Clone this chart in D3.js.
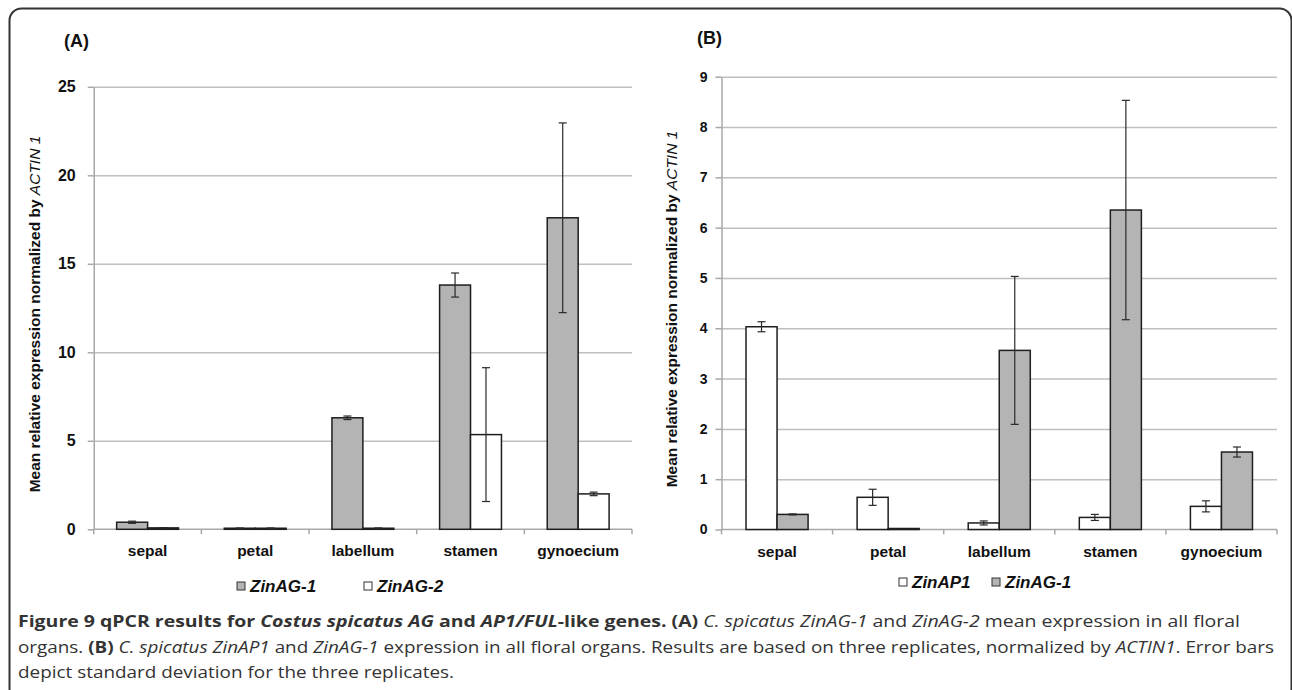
<!DOCTYPE html>
<html>
<head>
<meta charset="utf-8">
<script src="https://cdn.jsdelivr.net/npm/d3@7"></script>
<style>
  body { margin: 0; background: #fff; }
  svg { display: block; font-family: "Liberation Sans", Arial, sans-serif; }
  .grid line { stroke: #bfbfbf; stroke-width: 1.5; }
  .grid path { display: none; }
  .axis--y path, .axis--y line { stroke: #a8a8a8; stroke-width: 1.5; }
  .axis--y text { font-weight: bold; fill: #111; }
  .axis--x path, .axis--x line { display: none; }
  .axis--x text { font-weight: bold; fill: #111; font-size: 15.5px; }
  .bar { stroke: #1e1e1e; stroke-width: 1.5; }
  .err { stroke: #2a2a2a; stroke-width: 1.2; }
  .caption { font-family: "Open Sans", sans-serif; font-size: 16px; fill: #333; }
</style>
</head>
<body>
<div class="app"></div>
<script>
// values
var categories = ["sepal", "petal", "labellum", "stamen", "gynoecium"];

// panel (A)
var seriesA = ["ZinAG-1", "ZinAG-2"];
var zinAG1_A = [0.40, 0.06, 6.30, 13.80, 17.60];
var zinAG1_A_sd = [0.06, 0.01, 0.10, 0.68, 5.36];
var zinAG2_A = [0.08, 0.06, 0.06, 5.35, 2.00];
var zinAG2_A_sd = [0.01, 0.01, 0.01, 3.78, 0.10];
var ticksA = [0, 5, 10, 15, 20, 25];

// panel (B)
var seriesB = ["ZinAP1", "ZinAG-1"];
var zinAP1_B = [4.03, 0.64, 0.13, 0.24, 0.46];
var zinAP1_B_sd = [0.10, 0.16, 0.04, 0.06, 0.11];
var zinAG1_B = [0.30, 0.02, 3.56, 6.35, 1.54];
var zinAG1_B_sd = [0.01, 0.00, 1.47, 2.18, 0.10];
var ticksB = [0, 1, 2, 3, 4, 5, 6, 7, 8, 9];

var GRAY = "#b4b4b4", WHITE = "#ffffff";

var W = 1292, H = 690;

var svg = d3.select(".app").append("svg")
    .attr("width", W)
    .attr("height", H);

// frame round the figure
svg.append("rect")
    .attr("x", 9.5).attr("y", 8.5)
    .attr("width", 1282).attr("height", 692)
    .attr("rx", 12).attr("ry", 12)
    .attr("fill", "none")
    .attr("stroke", "#333")
    .attr("stroke-width", 2);

function drawPanel(cfg) {
    var x0 = d3.scaleBand().domain(categories).range([cfg.left, cfg.right]);
    var x1 = d3.scaleBand().domain(cfg.series).range([0, x0.bandwidth()]).paddingOuter(cfg.outer);
    var y = d3.scaleLinear().domain([0, d3.max(cfg.ticks)]).range([cfg.bottom, cfg.top]);

    var g = svg.append("g");

    // panel letter
    g.append("text")
        .attr("x", cfg.letterX).attr("y", cfg.letterY)
        .style("font-size", "18px").style("font-weight", "bold")
        .attr("fill", "#111")
        .text(cfg.letter);

    // gridlines
    g.append("g")
        .attr("class", "grid")
        .attr("transform", "translate(" + cfg.left + ",0)")
        .call(d3.axisLeft(y).tickValues(cfg.ticks.slice(1)).tickSize(-(cfg.right - cfg.left)).tickFormat(""));

    // y axis
    g.append("g")
        .attr("class", "axis axis--y")
        .attr("transform", "translate(" + cfg.left + ",0)")
        .style("font-size", cfg.tickFont + "px")
        .call(d3.axisLeft(y).tickValues(cfg.ticks).tickSize(6).tickSizeOuter(0).tickPadding(cfg.tickPad));

    // x axis line and boundary ticks
    g.append("line")
        .attr("x1", cfg.left).attr("x2", cfg.right)
        .attr("y1", y(0)).attr("y2", y(0))
        .attr("stroke", "#a8a8a8").attr("stroke-width", 1.5);

    var bounds = categories.map(function(c) { return x0(c); }).concat([cfg.right]);
    g.selectAll(".xtick")
        .data(bounds)
        .enter().append("line")
        .attr("class", "xtick")
        .attr("x1", function(d) { return d; }).attr("x2", function(d) { return d; })
        .attr("y1", y(0)).attr("y2", y(0) + 5)
        .attr("stroke", "#a8a8a8").attr("stroke-width", 1.5);

    g.append("g")
        .attr("class", "axis axis--x")
        .attr("transform", "translate(0," + y(0) + ")")
        .call(d3.axisBottom(x0).tickSize(0).tickPadding(16));

    // bars
    var rows = [];
    cfg.series.forEach(function(s, si) {
        categories.forEach(function(c, ci) {
            rows.push({cat: c, series: s, value: cfg.values[si][ci], sd: cfg.sds[si][ci], fill: cfg.fills[si]});
        });
    });

    g.selectAll(".bar")
        .data(rows)
        .enter().append("rect")
        .attr("class", "bar")
        .attr("x", function(d) { return x0(d.cat) + x1(d.series); })
        .attr("y", function(d) { return y(d.value); })
        .attr("width", x1.bandwidth())
        .attr("height", function(d) { return y(0) - y(d.value); })
        .attr("fill", function(d) { return d.fill; });

    // error bars
    var eb = g.selectAll(".errbar")
        .data(rows.filter(function(d) { return d.sd > 0; }))
        .enter().append("g")
        .attr("class", "errbar")
        .attr("transform", function(d) { return "translate(" + (x0(d.cat) + x1(d.series) + x1.bandwidth() / 2) + ",0)"; });

    eb.append("line").attr("class", "err")
        .attr("y1", function(d) { return y(d.value + d.sd); })
        .attr("y2", function(d) { return y(Math.max(0, d.value - d.sd)); });
    eb.append("line").attr("class", "err")
        .attr("x1", -4).attr("x2", 4)
        .attr("y1", function(d) { return y(d.value + d.sd); })
        .attr("y2", function(d) { return y(d.value + d.sd); });
    eb.append("line").attr("class", "err")
        .attr("x1", -4).attr("x2", 4)
        .attr("y1", function(d) { return y(Math.max(0, d.value - d.sd)); })
        .attr("y2", function(d) { return y(Math.max(0, d.value - d.sd)); });

    // y axis title
    var title = g.append("text")
        .attr("transform", "translate(" + cfg.titleX + "," + cfg.titleY + ") rotate(-90)")
        .attr("text-anchor", "middle")
        .style("font-size", "15.5px").style("font-weight", "bold")
        .attr("fill", "#111");
    title.append("tspan").text("Mean relative expression normalized by ");
    title.append("tspan").style("font-style", "italic").style("font-weight", "normal").text("ACTIN 1");

    // legend
    var leg = g.selectAll(".legend")
        .data(cfg.series)
        .enter().append("g")
        .attr("class", "legend")
        .attr("transform", function(d, i) { return "translate(" + cfg.legendX[i] + "," + cfg.legendY + ")"; });
    leg.append("rect")
        .attr("x", 0).attr("y", -4)
        .attr("width", 8).attr("height", 8)
        .attr("fill", function(d, i) { return cfg.fills[i]; })
        .attr("stroke", "#333").attr("stroke-width", 1);
    leg.append("text")
        .attr("x", 13).attr("y", 6)
        .style("font-size", "17px").style("font-weight", "bold").style("font-style", "italic")
        .attr("fill", "#111")
        .text(function(d) { return d; });
}

drawPanel({
    letter: "(A)", letterX: 64, letterY: 47,
    left: 93.75, right: 632, top: 86.8, bottom: 529.3, outer: 0.74,
    ticks: ticksA, tickFont: 16, tickPad: 12,
    series: seriesA, values: [zinAG1_A, zinAG2_A], sds: [zinAG1_A_sd, zinAG2_A_sd], fills: [GRAY, WHITE],
    titleX: 40, titleY: 314,
    legendX: [237, 364], legendY: 586
});

drawPanel({
    letter: "(B)", letterX: 697, letterY: 44,
    left: 721.5, right: 1277, top: 76.7, bottom: 529.5, outer: 0.79,
    ticks: ticksB, tickFont: 14, tickPad: 8,
    series: seriesB, values: [zinAP1_B, zinAG1_B], sds: [zinAP1_B_sd, zinAG1_B_sd], fills: [WHITE, GRAY],
    titleX: 677, titleY: 309,
    legendX: [899, 992], legendY: 582
});

// caption
var cap1 = svg.append("text").attr("class", "caption")
    .attr("x", 18).attr("y", 627)
    .attr("textLength", 1222).attr("lengthAdjust", "spacingAndGlyphs");
cap1.append("tspan").style("font-weight", "bold").text("Figure 9 qPCR results for ");
cap1.append("tspan").style("font-weight", "bold").style("font-style", "italic").text("Costus spicatus AG");
cap1.append("tspan").style("font-weight", "bold").text(" and ");
cap1.append("tspan").style("font-weight", "bold").style("font-style", "italic").text("AP1/FUL");
cap1.append("tspan").style("font-weight", "bold").text("-like genes. (A) ");
cap1.append("tspan").style("font-style", "italic").text("C. spicatus ZinAG-1");
cap1.append("tspan").text(" and ");
cap1.append("tspan").style("font-style", "italic").text("ZinAG-2");
cap1.append("tspan").text(" mean expression in all floral");

var cap2 = svg.append("text").attr("class", "caption")
    .attr("x", 18).attr("y", 653)
    .attr("textLength", 1256).attr("lengthAdjust", "spacingAndGlyphs");
cap2.append("tspan").text("organs. ");
cap2.append("tspan").style("font-weight", "bold").text("(B) ");
cap2.append("tspan").style("font-style", "italic").text("C. spicatus ZinAP1");
cap2.append("tspan").text(" and ");
cap2.append("tspan").style("font-style", "italic").text("ZinAG-1");
cap2.append("tspan").text(" expression in all floral organs. Results are based on three replicates, normalized by ");
cap2.append("tspan").style("font-style", "italic").text("ACTIN1");
cap2.append("tspan").text(". Error bars");

svg.append("text").attr("class", "caption")
    .attr("x", 18).attr("y", 678)
    .attr("textLength", 436).attr("lengthAdjust", "spacingAndGlyphs")
    .text("depict standard deviation for the three replicates.");
</script>
</body>
</html>
